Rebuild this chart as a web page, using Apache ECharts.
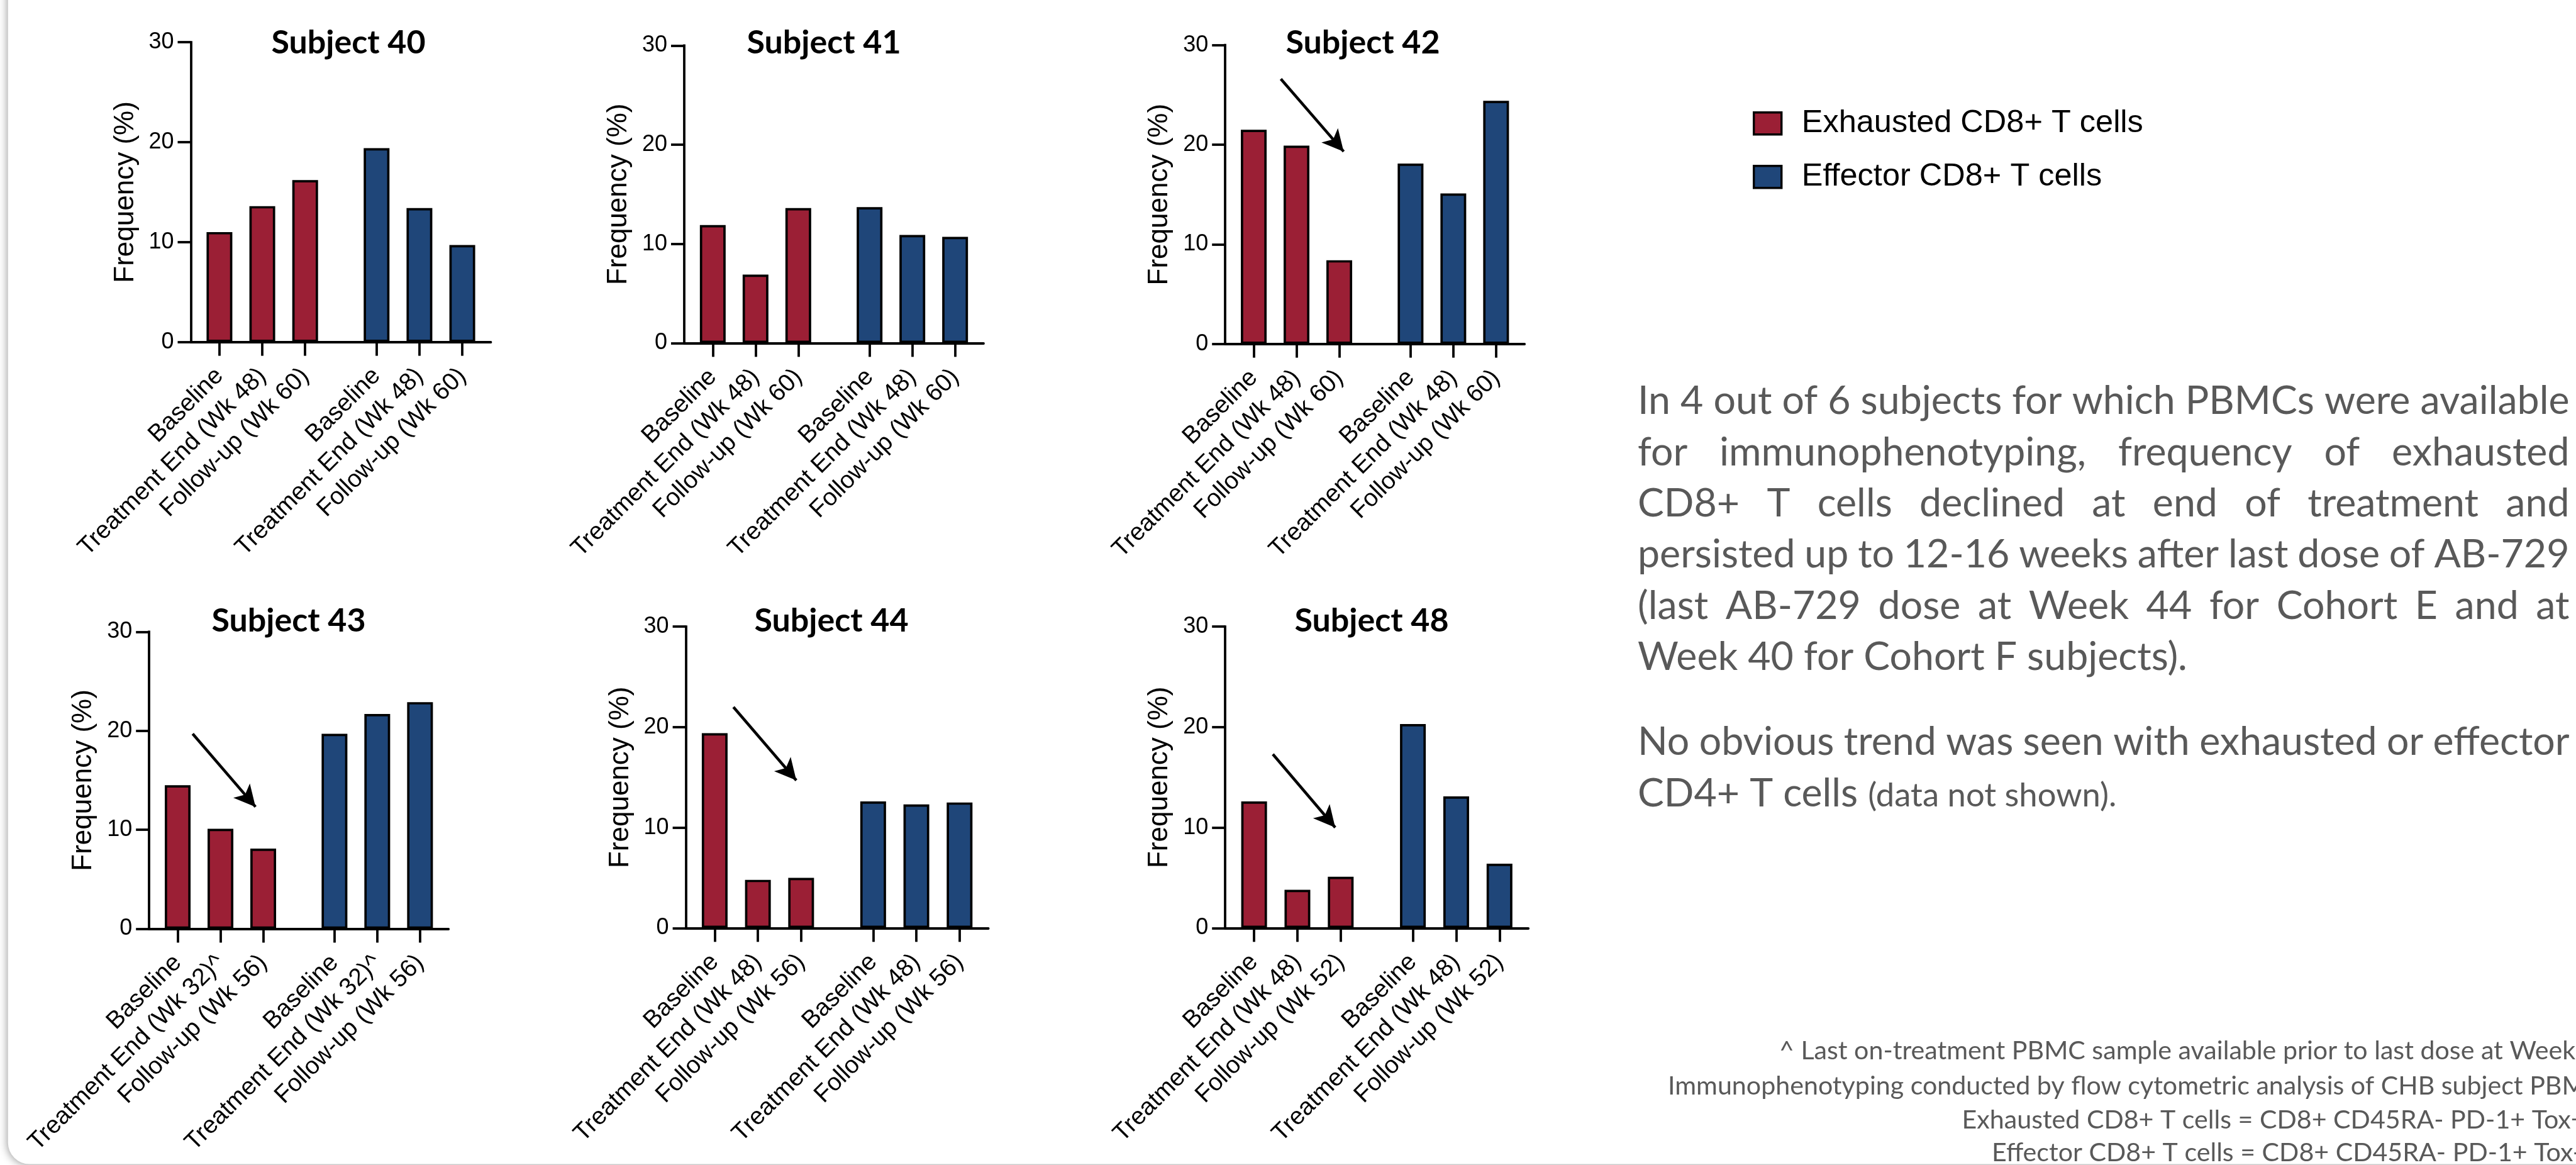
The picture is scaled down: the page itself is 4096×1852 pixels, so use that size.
<!DOCTYPE html>
<html>
<head>
<meta charset="utf-8">
<title>Exhausted and effector CD8+ T cells by subject</title>
<script src="https://cdn.jsdelivr.net/npm/echarts@6/dist/echarts.min.js"></script>
<style>
  html, body { margin: 0; padding: 0; background: #fff; }
  #main { width: 4096px; height: 1852px; }
</style>
</head>
<body>
<div id="main"></div>
<script>
// ---- data ----
var subjectNames = ['Subject 40', 'Subject 41', 'Subject 42', 'Subject 43', 'Subject 44', 'Subject 48'];
var timeLabels = [
  ['Baseline', 'Treatment End (Wk 48)', 'Follow-up (Wk 60)'],
  ['Baseline', 'Treatment End (Wk 48)', 'Follow-up (Wk 60)'],
  ['Baseline', 'Treatment End (Wk 48)', 'Follow-up (Wk 60)'],
  ['Baseline', 'Treatment End (Wk 32)^', 'Follow-up (Wk 56)'],
  ['Baseline', 'Treatment End (Wk 48)', 'Follow-up (Wk 56)'],
  ['Baseline', 'Treatment End (Wk 48)', 'Follow-up (Wk 52)']
];
var exhausted = [
  [11.0, 13.6, 16.2],
  [11.9, 6.9, 13.6],
  [21.5, 19.9, 8.4],
  [14.5, 10.1, 8.1],
  [19.4, 4.8, 5.0],
  [12.6, 3.8, 5.1]
];
var effector = [
  [19.4, 13.4, 9.7],
  [13.7, 10.9, 10.7],
  [18.1, 15.1, 24.4],
  [19.7, 21.7, 22.9],
  [12.6, 12.3, 12.5],
  [20.3, 13.1, 6.4]
];
var yMax = 30;
var yStep = 10;
var seriesNames = ['Exhausted CD8+ T cells', 'Effector CD8+ T cells'];
// trend arrows, [tail, tip] in data space (slot, %)
var arrows = [null, null,
  [[3.9, 26.6], [8.8, 18.5]],
  [[3.05, 19.7], [7.95, 11.5]],
  [[3.3, 22.0], [8.15, 13.9]],
  [[3.3, 17.3], [8.1, 9.2]]
];

var noteLines = [
  'In 4 out of 6 subjects for which PBMCs were available',
  'for immunophenotyping, frequency of exhausted',
  'CD8+ T cells declined at end of treatment and',
  'persisted up to 12-16 weeks after last dose of AB-729',
  '(last AB-729 dose at Week 44 for Cohort E and at',
  'Week 40 for Cohort F subjects).',
  'No obvious trend was seen with exhausted or effector',
  'CD4+ T cells'
];
var noteJustify = [true, true, true, true, true, false, true, false];
var noteTail = '(data not shown).';
var footnotes = [
  '^ Last on-treatment PBMC sample available prior to last dose at Week',
  'Immunophenotyping conducted by flow cytometric analysis of CHB subject PBMCs',
  'Exhausted CD8+ T cells = CD8+ CD45RA- PD-1+ Tox+ B',
  'Effector CD8+ T cells = CD8+ CD45RA- PD-1+ Tox- B'
];

// ---- layout (px in the 4096x1852 window) ----
var RED = '#9b1f35';
var BLUE = '#1f4679';
var GRAY = '#595959';
var plotBoxes = [
  [303.5, 67.2, 477, 476.4],
  [1088, 72.3, 476, 473],
  [1948.2, 71.7, 476, 474.9],
  [237.2, 1004.4, 476, 472.1],
  [1090.6, 996.2, 481, 479.1],
  [1948.2, 996.2, 482, 479.1]
];
var titlePos = [[554, 68.3], [1310, 68.3], [2167, 68.3], [459, 987.3], [1322, 987.3], [2181, 987.3]];
var noteLeft = 2604, noteRight = 4085.5;
var noteBaselines = [658.2, 739.5, 820.8, 901.9, 983.5, 1064.8, 1200.2, 1281.6];
var footStarts = [2829, 2652, 3119.5, 3167];
var footBaselines = [1684.4, 1739.7, 1793.5, 1845.9];

var measureCtx = document.createElement('canvas').getContext('2d');
function textWidth(str, size, family, weight) {
  measureCtx.font = (weight || 'normal') + ' ' + size + 'px ' + family;
  return measureCtx.measureText(str).width;
}

var chart = echarts.init(document.getElementById('main'));

var grids = [], xAxes = [], yAxes = [], series = [], graphics = [];

// card behind everything
graphics.push({
  type: 'rect', z: -100, silent: true,
  shape: { x: 12.75, y: -40, width: 4200, height: 1890.5, r: [0, 0, 0, 34] },
  style: { fill: '#fff', shadowBlur: 14, shadowColor: 'rgba(0,0,0,0.4)', shadowOffsetX: -1, shadowOffsetY: 1 }
});

subjectNames.forEach(function (name, p) {
  var box = plotBoxes[p];
  var slots = [];
  for (var g = 0; g < 2; g++) for (var j = 0; j < 3; j++) slots.push(2 + 3 * j + 11 * g);
  var labels = timeLabels[p].concat(timeLabels[p]);

  grids.push({ left: box[0], top: box[1], width: box[2], height: box[3], containLabel: false, outerBoundsMode: 'none' });

  xAxes.push({
    type: 'value', gridIndex: p, min: 0, max: 21,
    splitLine: { show: false },
    axisLine: { show: true, onZero: false, lineStyle: { color: '#000', width: 3.8 } },
    axisTick: { show: true, customValues: slots, length: 22, lineStyle: { color: '#000', width: 3.8 } },
    axisLabel: {
      show: true, customValues: slots, rotate: 45, margin: 48, hideOverlap: false,
      fontSize: 39, fontFamily: 'Liberation Sans', color: '#000',
      formatter: function (v) { var i = slots.indexOf(v); return i < 0 ? '' : labels[i]; }
    }
  });

  yAxes.push({
    type: 'value', gridIndex: p, min: 0, max: yMax, interval: yStep,
    name: 'Frequency (%)', nameLocation: 'middle', nameGap: 82, nameRotate: 90, nameMoveOverlap: false,
    nameTextStyle: { fontSize: 44, fontFamily: 'Liberation Sans', color: '#000' },
    splitLine: { show: false },
    axisLine: { show: true, onZero: false, lineStyle: { color: '#000', width: 3.8, cap: 'square' } },
    axisTick: { show: true, length: 21, lineStyle: { color: '#000', width: 3.8 } },
    axisLabel: { margin: 27, fontSize: 36, fontFamily: 'Liberation Sans', color: '#000' }
  });

  var redSeries = {
    name: seriesNames[0], type: 'bar', xAxisIndex: p, yAxisIndex: p,
    barWidth: 41, barGap: '-100%', animation: false,
    emphasis: { disabled: true },
    itemStyle: { color: RED, borderColor: '#000', borderWidth: 3.7 },
    data: exhausted[p].map(function (v, j) { return [slots[j], v]; })
  };
  if (arrows[p]) {
    var a = arrows[p];
    // pull the end back so the arrowhead's tip lands on the read tip
    var pxX = box[2] / 21, pxY = box[3] / yMax;
    var dx = (a[1][0] - a[0][0]) * pxX, dy = (a[0][1] - a[1][1]) * pxY;
    var len = Math.sqrt(dx * dx + dy * dy), back = 17;
    var end = [a[1][0] - dx / len * back / pxX, a[1][1] + dy / len * back / pxY];
    redSeries.markLine = {
      silent: true, animation: false,
      symbol: ['none', 'arrow'], symbolSize: [26, 34],
      label: { show: false },
      lineStyle: { color: '#000', width: 4.5, type: 'solid' },
      itemStyle: { color: '#000' },
      emphasis: { disabled: true },
      data: [[{ coord: a[0] }, { coord: end }]]
    };
  }
  series.push(redSeries);
  series.push({
    name: seriesNames[1], type: 'bar', xAxisIndex: p, yAxisIndex: p,
    barWidth: 41, barGap: '-100%', animation: false,
    emphasis: { disabled: true },
    itemStyle: { color: BLUE, borderColor: '#000', borderWidth: 3.7 },
    data: effector[p].map(function (v, j) { return [slots[3 + j], v]; })
  });

  graphics.push({
    type: 'text', x: titlePos[p][0], y: titlePos[p][1], silent: true,
    style: { text: name, fontSize: 52, fontFamily: 'Lato', fontWeight: 'bold', fill: '#000',
             align: 'center', verticalAlign: 'middle', textAlign: 'center', textVerticalAlign: 'middle' }
  });
});

// ---- notes on the right ----
function addText(str, x, baseline, size, weight) {
  graphics.push({
    type: 'text', x: x, y: baseline - 0.3225 * size, silent: true,
    style: { text: str, fontSize: size, fontFamily: 'Lato', fontWeight: weight || 'normal', fill: GRAY,
             align: 'left', verticalAlign: 'middle', textAlign: 'left', textVerticalAlign: 'middle' }
  });
}
var bodySize = 66 * (noteRight - noteLeft) / textWidth(noteLines[0], 66, 'Lato');
noteLines.forEach(function (line, i) {
  if (!noteJustify[i]) { addText(line, noteLeft, noteBaselines[i], bodySize); return; }
  var words = line.split(' ');
  var widths = words.map(function (w) { return textWidth(w, bodySize, 'Lato'); });
  var total = widths.reduce(function (s, w) { return s + w; }, 0);
  var gap = (noteRight - noteLeft - total) / (words.length - 1);
  var x = noteLeft;
  words.forEach(function (w, k) { addText(w, x, noteBaselines[i], bodySize); x += widths[k] + gap; });
});
var tailSize = bodySize * 0.84;
var tailX = noteLeft + textWidth(noteLines[7] + ' ', bodySize, 'Lato');
addText(noteTail, tailX, noteBaselines[7], tailSize);

var footSize = 40 * 1360 / textWidth('Immunophenotyping conducted by flow cytometric analysis of CHB subject', 40, 'Lato');
footnotes.forEach(function (line, i) { addText(line, footStarts[i], footBaselines[i], footSize); });

var legendBase = {
  orient: 'vertical', padding: 0, selectedMode: false, icon: 'rect',
  itemWidth: 44, itemHeight: 35,
  itemStyle: { borderColor: '#000', borderWidth: 3.4 },
  textStyle: { fontSize: 50.5, fontFamily: 'Liberation Sans', color: '#000', padding: [0, 0, 0, 27] }
};

chart.setOption({
  backgroundColor: '#fff',
  animation: false,
  grid: grids,
  xAxis: xAxes,
  yAxis: yAxes,
  legend: [
    Object.assign({}, legendBase, { data: [seriesNames[0]], left: 2787, top: 170.7 }),
    Object.assign({}, legendBase, { data: [seriesNames[1]], left: 2787, top: 255.7 })
  ],
  graphic: graphics,
  series: series
});
</script>
</body>
</html>
